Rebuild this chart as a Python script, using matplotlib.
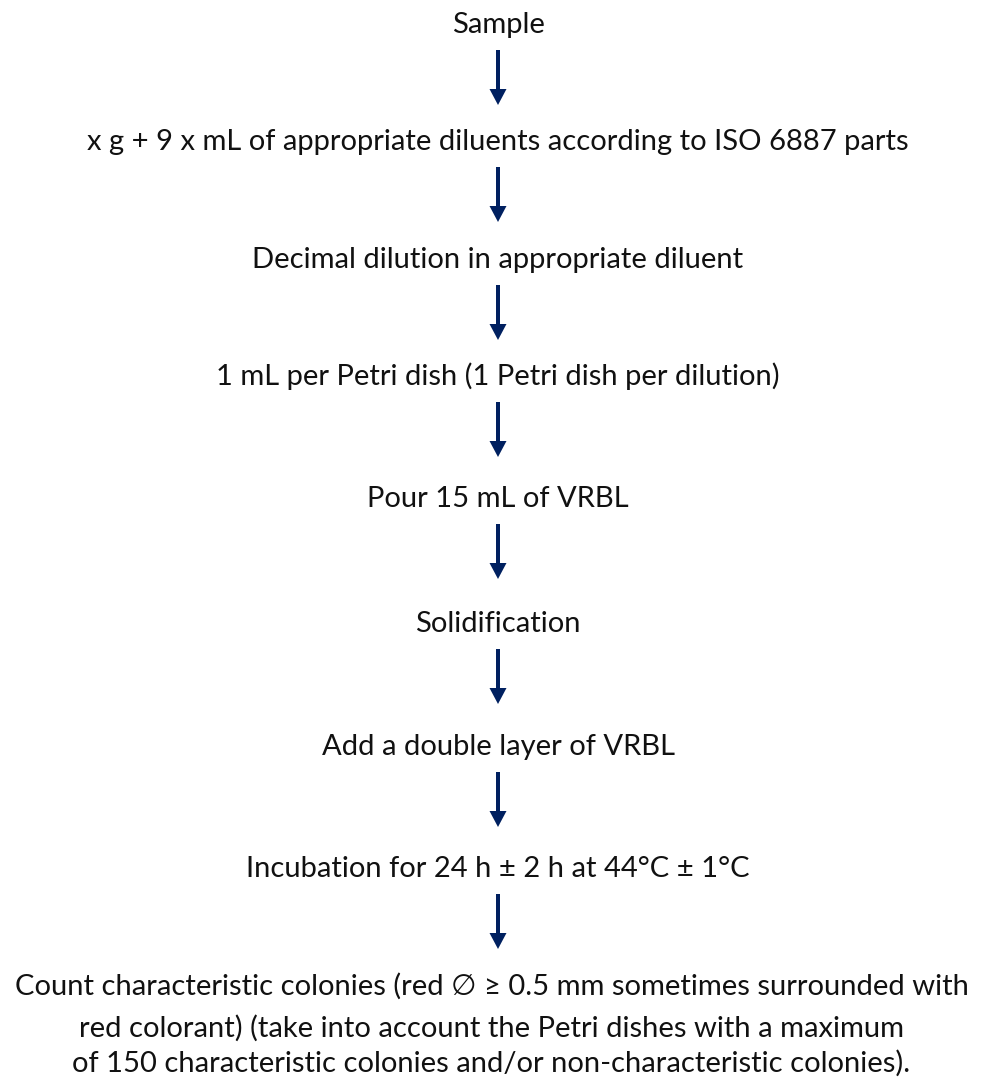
import matplotlib.pyplot as plt

# flow chart steps (top to bottom)
steps = [
    "Sample",
    "x g + 9 x mL of appropriate diluents according to ISO 6887 parts",
    "Decimal dilution in appropriate diluent",
    "1 mL per Petri dish (1 Petri dish per dilution)",
    "Pour 15 mL of VRBL",
    "Solidification",
    "Add a double layer of VRBL",
    "Incubation for 24 h \u00b1 2 h at 44\u00b0C \u00b1 1\u00b0C",
]
last_step = [
    "Count characteristic colonies (red \u2205 \u2265 0.5 mm sometimes surrounded with",
    "red colorant) (take into account the Petri dishes with a maximum",
    "of 150 characteristic colonies and/or non-characteristic colonies).",
]

# layout (pixels from top)
W, H = 983, 1079
xc = 498
baselines = [33, 150, 268, 385, 507, 632, 755, 877]
last_baselines = [995, 1037, 1072]
arrow_gap = 17
arrow_len = 55
navy = '#002060'
fam = ['Lato', 'DejaVu Sans']
fs = 21

fig = plt.figure(figsize=(W / 100, H / 100), dpi=100)
ax = fig.add_axes([0, 0, 1, 1])
ax.set_xlim(0, W)
ax.set_ylim(H, 0)
ax.axis('off')

for txt, yb in zip(steps, baselines):
    ax.text(xc, yb, txt, ha='center', va='baseline', fontsize=fs, family=fam, color='#111111')

for txt, yb in zip(last_step, last_baselines):
    ax.text(W / 2, yb, txt, ha='center', va='baseline', fontsize=fs, family=fam, color='#111111')

for yb in baselines:
    ax.arrow(xc, yb + arrow_gap, 0, arrow_len, width=4, head_width=17, head_length=16,
             length_includes_head=True, color=navy, linewidth=0)

fig.savefig('out.png', dpi=100)
